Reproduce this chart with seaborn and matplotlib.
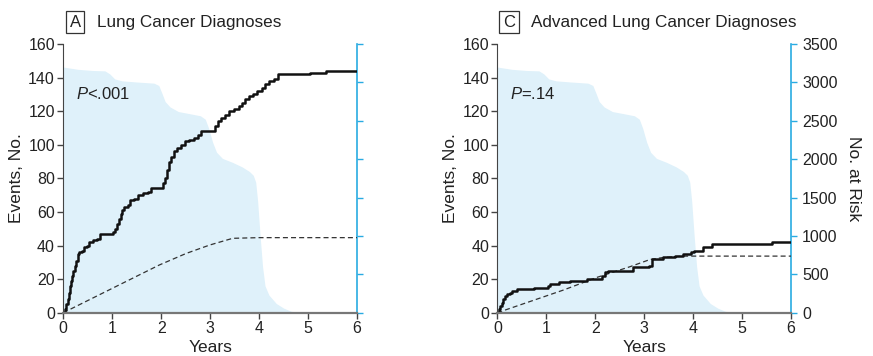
import numpy as np
import pandas as pd
import matplotlib
matplotlib.use("Agg")
import matplotlib.pyplot as plt
import seaborn as sns

# Panel A - observed cumulative lung cancer diagnoses (step curve)
a_years = [0, 0.03, 0.06, 0.09, 0.11, 0.13, 0.15, 0.18, 0.2, 0.23, 0.26, 0.3, 0.33, 0.38,
           0.42, 0.48, 0.53, 0.6, 0.68, 0.74, 0.98, 1.02, 1.06, 1.1, 1.13, 1.17, 1.2, 1.25,
           1.33, 1.37, 1.45, 1.52, 1.62, 1.72, 1.8, 2.0, 2.04, 2.08, 2.12, 2.15, 2.2, 2.26,
           2.32, 2.4, 2.48, 2.56, 2.66, 2.75, 2.82, 3.05, 3.1, 3.15, 3.22, 3.3, 3.38, 3.48,
           3.58, 3.65, 3.72, 3.8, 3.88, 3.95, 4.05, 4.12, 4.2, 4.3, 4.38, 5.03, 5.37, 6.0]
a_events = [0, 2, 5, 8, 12, 16, 19, 22, 25, 28, 31, 35, 36, 37,
            39, 40, 42, 43, 44, 47, 47, 48, 50, 53, 56, 59, 61, 63,
            64, 67, 68, 70, 71, 72, 74, 74, 77, 80, 85, 90, 93, 96,
            98, 100, 102, 103, 104, 106, 108, 108, 111, 114, 116, 118, 120, 121,
            123, 125, 127, 129, 130, 132, 134, 136, 138, 139, 142, 143, 144, 144]
# Panel A - expected events (dashed)
a_exp_years = [0, 1.0, 1.96, 2.51, 2.99, 3.46, 4.0, 6.0]
a_exp_events = [0, 14.5, 28.4, 35.3, 40.3, 44.3, 44.7, 44.7]

# Panel C - observed cumulative advanced lung cancer diagnoses
c_years = [0, 0.03, 0.06, 0.09, 0.12, 0.15, 0.2, 0.25, 0.3, 0.4, 0.74, 1.04, 1.08, 1.25,
           1.49, 1.83, 2.07, 2.13, 2.2, 2.27, 2.75, 2.78, 3.09, 3.16, 3.39, 3.63, 3.8,
           3.95, 4.01, 4.21, 4.39, 5.61, 6.0]
c_events = [0, 2, 4, 6, 8, 10, 11, 12, 13, 14, 15, 16, 17, 18,
            19, 20, 20, 22, 24, 25, 25, 27, 28, 32, 33, 34, 35,
            36, 37, 39, 41, 42, 42]
# Panel C - expected events (dashed)
c_exp_years = [0, 1.35, 2.03, 2.71, 3.12, 3.39, 3.8, 6.0]
c_exp_events = [0, 13.5, 21, 27.4, 31.7, 32.9, 33.7, 33.7]

# Number at risk (shaded area, right axis)
risk_years = [0, 0.3, 0.6, 0.85, 0.95, 1.05, 1.2, 1.5, 1.85, 1.95, 2.02, 2.08, 2.18,
              2.35, 2.6, 2.8, 2.9, 2.97, 3.05, 3.13, 3.25, 3.45, 3.65, 3.8, 3.88, 3.93,
              3.97, 4.02, 4.07, 4.12, 4.2, 4.35, 4.5, 4.65, 4.8, 6.0]
risk_n = [3200, 3170, 3155, 3150, 3110, 3045, 3020, 3005, 2990, 2960, 2850, 2750, 2680,
          2620, 2590, 2565, 2520, 2400, 2220, 2090, 2010, 1960, 1900, 1840, 1790, 1700,
          1450, 1000, 600, 350, 230, 120, 60, 20, 0, 0]

panels = [
    ("A", "Lung Cancer Diagnoses", "$P$<.001", a_years, a_events, a_exp_years, a_exp_events),
    ("C", "Advanced Lung Cancer Diagnoses", "$P$=.14", c_years, c_events, c_exp_years, c_exp_events),
]

sns.set_style("ticks")
plt.rcParams["font.family"] = ["Liberation Sans", "DejaVu Sans"]
plt.rcParams["mathtext.fontset"] = "custom"
plt.rcParams["mathtext.it"] = "Liberation Sans:italic"
plt.rcParams["mathtext.rm"] = "Liberation Sans"

blue = "#29abe2"
fill_blue = "#dff1fa"
text_col = "#222222"

fig = plt.figure(figsize=(8.73, 3.56), dpi=100)
lefts = [0.0725, 0.5697]

for i, (letter, title, ptext, yrs, ev, eyrs, eev) in enumerate(panels):
    ax = fig.add_axes([lefts[i], 0.1216, 0.3365, 0.7548])
    ax2 = ax.twinx()

    # at-risk shading
    ax2.fill_between(risk_years, risk_n, 0, color=fill_blue, linewidth=0)
    ax2.set_ylim(0, 3500)
    ax2.set_yticks(np.arange(0, 3501, 500))
    ax2.tick_params(axis="y", colors=blue, length=4, width=1, labelcolor=text_col,
                    labelsize=11.5, pad=4)
    if i == 0:
        ax2.set_yticklabels([])
    else:
        ax2.set_ylabel("No. at Risk", rotation=270, labelpad=17, fontsize=12.5, color=text_col)
    for s in ["top", "left", "bottom"]:
        ax2.spines[s].set_visible(False)
    ax2.spines["right"].set_color(blue)
    ax2.spines["right"].set_linewidth(1.2)

    ax.set_zorder(ax2.get_zorder() + 1)
    ax.patch.set_visible(False)

    obs = pd.DataFrame({"years": yrs, "events": ev})
    exp = pd.DataFrame({"years": eyrs, "events": eev})
    sns.lineplot(data=exp, x="years", y="events", ax=ax, color="#333333", linewidth=0.9,
                 linestyle=(0, (4, 2.5)), estimator=None, sort=False)
    sns.lineplot(data=obs, x="years", y="events", ax=ax, color="#111111", linewidth=1.8,
                 drawstyle="steps-post", estimator=None, sort=False)

    ax.set_xlim(0, 6)
    ax.set_ylim(0, 160)
    ax.set_xticks(range(0, 7))
    ax.set_yticks(range(0, 161, 20))
    ax.tick_params(length=4, width=1, colors="#444444", labelcolor=text_col,
                   labelsize=11.5, pad=2)
    ax.set_xlabel("Years", fontsize=12.5, color=text_col, labelpad=3)
    ax.set_ylabel("Events, No.", fontsize=12.5, color=text_col, labelpad=3)
    for s in ["top", "right"]:
        ax.spines[s].set_visible(False)
    ax.spines["left"].set_color("#444444")
    ax.spines["bottom"].set_color("#777777")
    ax.spines["bottom"].set_linewidth(1.6)

    ax.text(0.25, 130, ptext, fontsize=12, color=text_col, ha="left", va="center")

    # panel heading with boxed letter
    x0 = lefts[i]
    fig.text(x0 + 0.0135, 0.938, letter, fontsize=12, ha="center", va="center", color=text_col,
             bbox=dict(boxstyle="square,pad=0.22", facecolor="white", edgecolor="#333333",
                       linewidth=0.9))
    fig.text(x0 + 0.039, 0.938, title, fontsize=12.3, ha="left", va="center", color=text_col)

fig.savefig("out.png", dpi=100)
